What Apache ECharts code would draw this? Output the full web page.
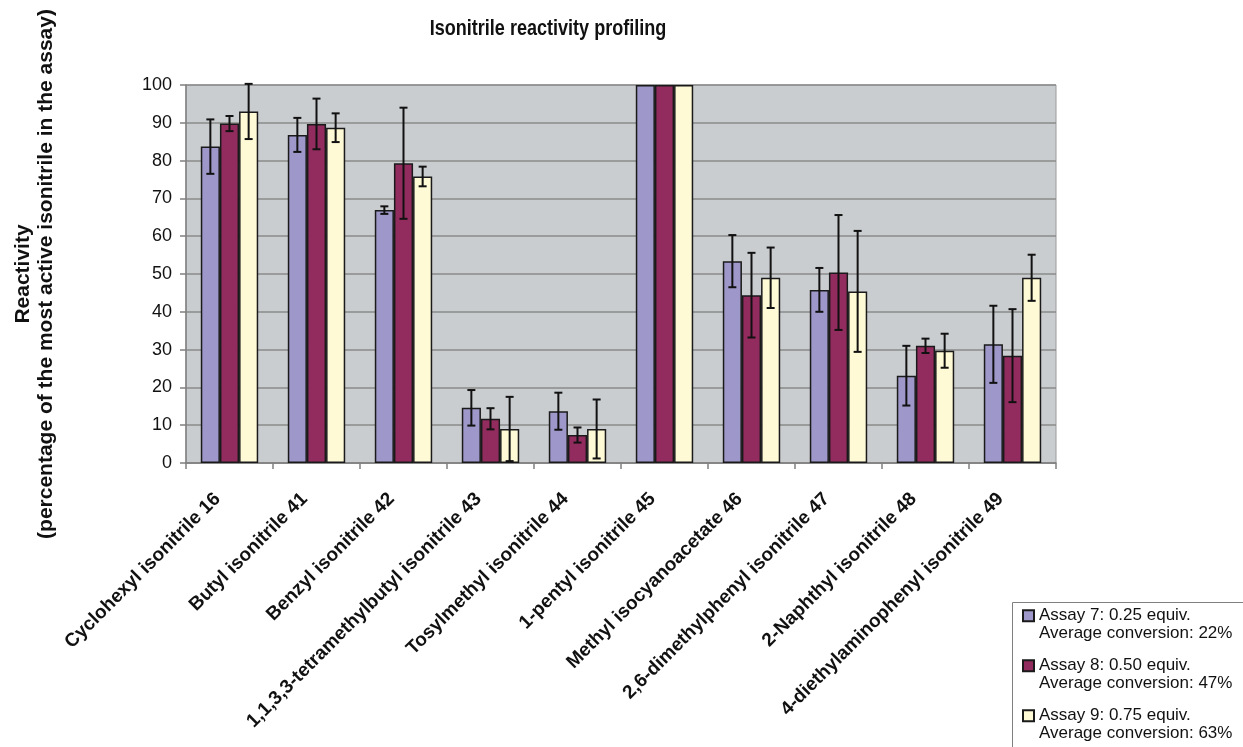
<!DOCTYPE html>
<html>
<head>
<meta charset="utf-8">
<title>Isonitrile reactivity profiling</title>
<script src="https://cdn.jsdelivr.net/npm/echarts@6/dist/echarts.min.js"></script>
<style>
  html, body { margin: 0; padding: 0; background: #ffffff; }
  #chart { width: 1243px; height: 747px; }
</style>
</head>
<body>
<div id="chart"></div>
<script>
// Isonitriles tested
const categories = [
  'Cyclohexyl isonitrile 16',
  'Butyl isonitrile 41',
  'Benzyl isonitrile 42',
  '1,1,3,3-tetramethylbutyl isonitrile 43',
  'Tosylmethyl isonitrile 44',
  '1-pentyl isonitrile 45',
  'Methyl isocyanoacetate 46',
  '2,6-dimethylphenyl isonitrile 47',
  '2-Naphthyl isonitrile 48',
  '4-diethylaminophenyl isonitrile 49'
];

// Assay names and average conversions
const assayNames = ['Assay 7: 0.25 equiv.', 'Assay 8: 0.50 equiv.', 'Assay 9: 0.75 equiv.'];
const avgConversion = ['22%', '47%', '63%'];

// Reactivity (% of most active isonitrile) and error (±)
const assay7 = [83.7, 86.8, 66.9, 14.6, 13.7, 100, 53.4, 45.8, 23.1, 31.4];
const err7   = [7.2, 4.5, 1.0, 4.7, 4.9, 0, 6.9, 5.8, 7.9, 10.2];
const assay8 = [89.8, 89.7, 79.3, 11.7, 7.4, 100, 44.4, 50.4, 31.0, 28.4];
const err8   = [2.0, 6.7, 14.7, 2.8, 2.0, 0, 11.2, 15.2, 1.9, 12.3];
const assay9 = [93.0, 88.7, 75.8, 9.0, 9.0, 100, 49.0, 45.4, 29.7, 49.0];
const err9   = [7.3, 3.8, 2.6, 8.5, 7.8, 0, 8.0, 16.0, 4.5, 6.1];

const yTicks = [0, 10, 20, 30, 40, 50, 60, 70, 80, 90, 100];

const colors = ['#9D98C9', '#922B5E', '#FFFAD6'];
const CATEGORY_GAP = 0.34;
const FONT = "'Liberation Sans', Arial, Helvetica, sans-serif";

const values = [assay7, assay8, assay9];
const errors = [err7, err8, err9];

// Legend layout
const LEGEND_LEFT = 1022;
const LEGEND_TOP = 607;
const LEGEND_STEP = 50;
const LEGEND_LINE = 17.5;

const chart = echarts.init(document.getElementById('chart'), null, { renderer: 'canvas' });

function barSeries(i) {
  return {
    type: 'bar',
    name: assayNames[i],
    data: values[i],
    barGap: '0%',
    barCategoryGap: (CATEGORY_GAP * 100) + '%',
    itemStyle: { color: colors[i], borderColor: '#1a1a1a', borderWidth: 1.5 },
    emphasis: { disabled: true },
    z: 2
  };
}

function errorSeries(i) {
  return {
    type: 'custom',
    data: values[i].map((v, k) => [k, v, errors[i][k]]),
    clip: false,
    z: 5,
    silent: true,
    renderItem: function (params, api) {
      const cat = api.value(0);
      const v = api.value(1);
      const e = api.value(2);
      if (!e) return null;
      const band = api.size([1, 0])[0];
      const barW = band * (1 - CATEGORY_GAP) / 3;
      const cx = api.coord([cat, v])[0] + (i - 1) * barW;
      const yTop = api.coord([cat, v + e])[1];
      const yBot = api.coord([cat, v - e])[1];
      const cap = 4;
      const style = { stroke: '#111111', lineWidth: 2 };
      return {
        type: 'group',
        children: [
          { type: 'line', shape: { x1: cx, y1: yTop, x2: cx, y2: yBot }, style: style },
          { type: 'line', shape: { x1: cx - cap, y1: yTop, x2: cx + cap, y2: yTop }, style: style },
          { type: 'line', shape: { x1: cx - cap, y1: yBot, x2: cx + cap, y2: yBot }, style: style }
        ]
      };
    }
  };
}

// Second legend line for each assay: the average conversion
const conversionTexts = avgConversion.map((c, k) => ({
  type: 'text',
  x: LEGEND_LEFT + 17,
  y: LEGEND_TOP + k * LEGEND_STEP + LEGEND_LINE * 1.5,
  style: {
    text: 'Average conversion: ' + c,
    fontFamily: FONT,
    fontSize: 17,
    fill: '#111111',
    textAlign: 'left',
    textVerticalAlign: 'middle'
  }
}));

const option = {
  backgroundColor: '#ffffff',
  animation: false,
  color: colors,
  grid: {
    left: 186, right: 187, top: 85, bottom: 284,
    show: true,
    backgroundColor: '#CACDD0',
    borderColor: '#9a9a9a',
    borderWidth: 1
  },
  graphic: [
    {
      type: 'text',
      x: 548, y: 29,
      scaleX: 0.82,
      style: {
        text: 'Isonitrile reactivity profiling',
        fontFamily: FONT,
        fontWeight: 'bold',
        fontSize: 22,
        fill: '#111111',
        textAlign: 'center',
        textVerticalAlign: 'middle'
      }
    },
    {
      type: 'rect',
      z: -1,
      shape: { x: 1012.5, y: 602.5, width: 260, height: 200 },
      style: { fill: '#ffffff', stroke: '#808080', lineWidth: 1 }
    }
  ].concat(conversionTexts),
  legend: {
    orient: 'vertical',
    left: LEGEND_LEFT,
    top: LEGEND_TOP,
    padding: 0,
    itemGap: LEGEND_STEP - LEGEND_LINE,
    itemWidth: 11,
    itemHeight: 11,
    icon: 'rect',
    selectedMode: false,
    data: assayNames,
    textStyle: {
      fontFamily: FONT,
      fontSize: 17,
      lineHeight: LEGEND_LINE,
      color: '#111111'
    }
  },
  xAxis: {
    type: 'category',
    data: categories,
    axisLine: { lineStyle: { color: '#808080', width: 1.5 } },
    axisTick: { show: true, length: 6, lineStyle: { color: '#808080', width: 1.5 } },
    axisLabel: {
      interval: 0,
      rotate: 45,
      margin: 21,
      padding: [0, 17, 0, 0],
      fontFamily: FONT,
      fontWeight: 'bold',
      fontSize: 19,
      color: '#111111'
    }
  },
  yAxis: {
    type: 'value',
    min: yTicks[0],
    max: yTicks[yTicks.length - 1],
    interval: yTicks[1] - yTicks[0],
    name: 'Reactivity\n(percentage of the most active isonitrile in the assay)',
    nameLocation: 'middle',
    nameGap: 128,
    nameTextStyle: {
      fontFamily: FONT,
      fontWeight: 'bold',
      fontSize: 21,
      lineHeight: 23,
      color: '#111111',
      align: 'center'
    },
    axisLine: { show: true, lineStyle: { color: '#808080', width: 1.5 } },
    axisTick: { show: true, length: 6, lineStyle: { color: '#808080', width: 1.5 } },
    axisLabel: {
      margin: 14,
      fontFamily: FONT,
      fontSize: 18,
      color: '#111111'
    },
    splitLine: { show: true, lineStyle: { color: '#8a8a8a', width: 1.5 } }
  },
  series: [
    barSeries(0), barSeries(1), barSeries(2),
    errorSeries(0), errorSeries(1), errorSeries(2)
  ]
};

chart.setOption(option);
</script>
</body>
</html>
